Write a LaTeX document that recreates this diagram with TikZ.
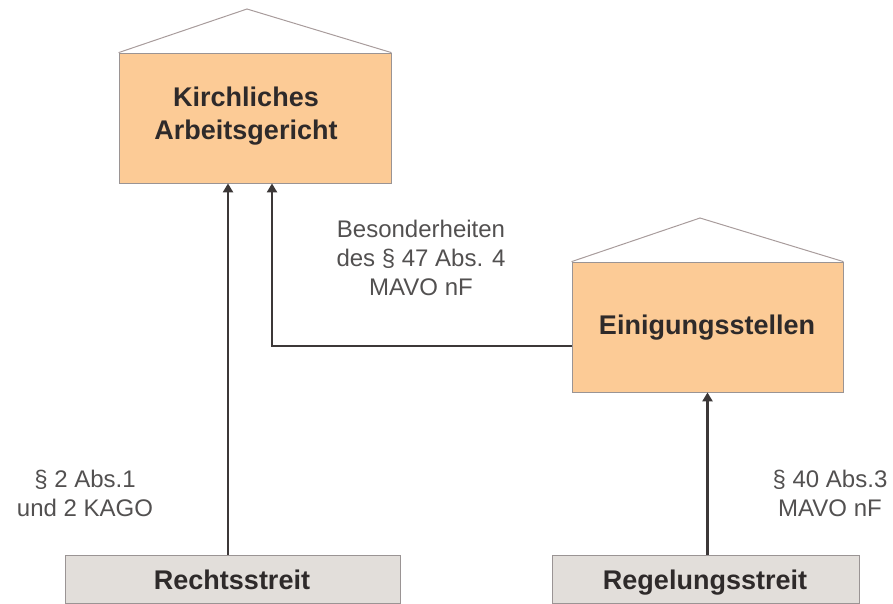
\documentclass[tikz,border=0pt]{standalone}
\usepackage{fontspec}
\setmainfont{Liberation Sans}
\usetikzlibrary{arrows.meta}
\definecolor{orangebox}{HTML}{FCCB96}
\definecolor{greybox}{HTML}{E2DEDA}
\definecolor{boxline}{HTML}{9A9494}
\definecolor{roofline}{HTML}{A89C9C}
\definecolor{arrowcol}{HTML}{3C3838}
\definecolor{labelcol}{HTML}{525050}
\definecolor{textcol}{HTML}{2E2A2A}
\tikzset{
  orgbox/.style={draw=boxline, line width=0.8pt, fill=orangebox, inner sep=0pt},
  basebox/.style={draw=boxline, line width=0.8pt, fill=greybox, inner sep=0pt},
  boxtext/.style={text=textcol, font=\fontsize{27}{33}\selectfont\bfseries, align=center, inner sep=0pt},
  roof/.style={draw=roofline, line width=1pt},
  arr/.style={draw=arrowcol, line width=2.6pt, -{Triangle[length=9pt,width=10pt]}},
  lbl/.style={text=labelcol, font=\fontsize{24}{29}\selectfont, align=center, inner sep=0pt}
}
\begin{document}
\begin{tikzpicture}[x=1pt,y=-1pt]
\useasboundingbox (0,0) rectangle (893,603);
% boxes
\node[orgbox, minimum width=272pt, minimum height=130pt] (kag) at (255,118) {};
\node[boxtext] (kagt) at (246,116) {Kirchliches\\Arbeitsgericht};
\node[orgbox, minimum width=271pt, minimum height=130pt] (es) at (707.5,327) {};
\node[boxtext, anchor=base] (est) at (707,334) {Einigungsstellen};
\node[basebox, minimum width=335pt, minimum height=48pt] (rs) at (232.5,579) {};
\node[boxtext, anchor=base] (rst) at (232,589) {Rechtsstreit};
\node[basebox, minimum width=307pt, minimum height=48pt] (rg) at (705.5,579) {};
\node[boxtext, anchor=base] (rgt) at (705,589) {Regelungsstreit};
% roofs
\coordinate (kroof) at (247,9);
\coordinate (eroof) at (700,218);
\draw[roof] (kag.north west) -- (kroof) -- (kag.north east);
\draw[roof] (es.north west) -- (eroof) -- (es.north east);
% arrows
\coordinate (a1) at ([xshift=-4.5pt]rs.north);
\draw[arr] (a1) -- (a1 |- kag.south);
\coordinate (a2end) at ([xshift=17pt]kag.south);
\draw[arr] ([yshift=-19pt]es.west) -| (a2end);
\draw[arr] (rg.north -| es.south) -- (es.south);
% labels
\node[lbl] (l1) at (421,258) {Besonderheiten\\des § 47 Abs. 4\\MAVO nF};
\node[lbl] (l2) at (85,493) {§ 2 Abs.1\\und 2 KAGO};
\node[lbl] (l3) at (830,493) {§ 40 Abs.3\\MAVO nF};
\end{tikzpicture}
\end{document}
